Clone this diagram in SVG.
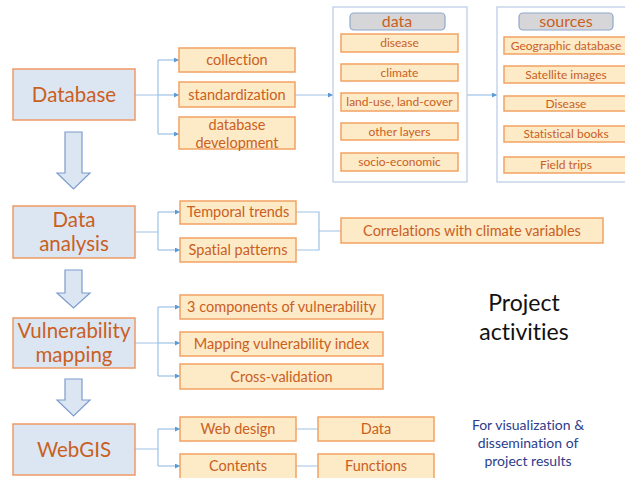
<svg xmlns="http://www.w3.org/2000/svg" width="625" height="478" viewBox="0 0 625 478">
<defs>
<style>
.ob{fill:#fdeac6;stroke:#f2a263;stroke-width:1.5}
.bb{fill:#dce6f3;stroke:#ee9a66;stroke-width:1.5}
.ct{fill:#fff;stroke:#b7cbe6;stroke-width:1.2}
.hd{fill:#d6d6d9;stroke:#8fa7cc;stroke-width:1.2}
.da{fill:#dce6f3;stroke:#7c9ccb;stroke-width:1.2}
.ln{fill:none;stroke:#9dc1e6;stroke-width:1.2}
text{font-family:Lato,"Open Sans","Liberation Sans",sans-serif;text-anchor:middle;fill:#c9601f;font-variant-ligatures:none}
.t14{font-size:14.5px}
.t12{font-size:12px}
.t16{font-size:16px}
.big{font-size:20.5px}
.pa{font-size:23px;fill:#111}
.bl{font-size:14px;fill:#2c3d8c}
</style>
<marker id="ah" viewBox="0 0 6 6" refX="6" refY="3" markerWidth="5" markerHeight="5" orient="auto" markerUnits="userSpaceOnUse">
<path d="M0,0L6,3L0,6z" fill="#5b9bd5"/>
</marker>
</defs>
<g id="connectors">
<path class="ln" d="M135,95H158M158,60V134"/>
<path class="ln" d="M158,60H179" marker-end="url(#ah)"/>
<path class="ln" d="M158,95H179" marker-end="url(#ah)"/>
<path class="ln" d="M158,134H179" marker-end="url(#ah)"/>
<path class="ln" d="M295,95H333" marker-end="url(#ah)"/>
<path class="ln" d="M467,95H497" marker-end="url(#ah)"/>
<path class="ln" d="M135,232H158M158,212V250"/>
<path class="ln" d="M158,212H180" marker-end="url(#ah)"/>
<path class="ln" d="M158,250H180" marker-end="url(#ah)"/>
<path class="ln" d="M296,212H319V250H296M319,231H341"/>
<path class="ln" d="M135,343H158M158,307V376"/>
<path class="ln" d="M158,307H180" marker-end="url(#ah)"/>
<path class="ln" d="M158,343H180" marker-end="url(#ah)"/>
<path class="ln" d="M158,376H180" marker-end="url(#ah)"/>
<path class="ln" d="M135,449H158M158,429V466"/>
<path class="ln" d="M158,429H180" marker-end="url(#ah)"/>
<path class="ln" d="M158,466H180" marker-end="url(#ah)"/>
<path class="ln" d="M296,429H318M296,466H318"/>
</g>
<g id="down-arrows">
<path class="da" d="M65,132H82V173H90L73.5,189L57,173H65Z"/>
<path class="da" d="M65,270H82V293H90L73.5,308L57,293H65Z"/>
<path class="da" d="M65,379H82V400H90L73.5,416L57,400H65Z"/>
</g>
<g id="database"><rect class="bb" x="13" y="69" width="122" height="51"/><text class="big" x="74" y="102">Database</text></g>
<g id="collection"><rect class="ob" x="179" y="48" width="116" height="24"/><text class="t14" x="237" y="65">collection</text></g>
<g id="standardization"><rect class="ob" x="179" y="82" width="116" height="25"/><text class="t14" x="237" y="100">standardization</text></g>
<g id="database-development"><rect class="ob" x="179" y="117" width="116" height="32"/><text class="t14" x="237" y="130">database</text><text class="t14" x="237" y="148">development</text></g>
<g id="data-group">
<rect class="ct" x="333" y="7" width="134" height="175"/>
<rect class="hd" x="350" y="13" width="95" height="17" rx="4"/><text class="t16" x="397" y="27">data</text>
<rect class="ob" x="341" y="34" width="117" height="18"/><text class="t12" x="399.5" y="47">disease</text>
<rect class="ob" x="341" y="64" width="117" height="17"/><text class="t12" x="399.5" y="77">climate</text>
<rect class="ob" x="341" y="93" width="117" height="18"/><text class="t12" x="399.5" y="106">land-use, land-cover</text>
<rect class="ob" x="341" y="123" width="117" height="17"/><text class="t12" x="399.5" y="136">other layers</text>
<rect class="ob" x="341" y="153" width="117" height="18"/><text class="t12" x="399.5" y="166">socio-economic</text>
</g>
<g id="sources-group">
<rect class="ct" x="497" y="7" width="140" height="175"/>
<rect class="hd" x="519" y="13" width="94" height="17" rx="4"/><text class="t16" x="566" y="27">sources</text>
<rect class="ob" x="504" y="37" width="130" height="17"/><text class="t12" x="566" y="50">Geographic database</text>
<rect class="ob" x="504" y="66" width="130" height="17"/><text class="t12" x="566" y="79">Satellite images</text>
<rect class="ob" x="504" y="96" width="130" height="15"/><text class="t12" x="566" y="108">Disease</text>
<rect class="ob" x="504" y="126" width="130" height="16"/><text class="t12" x="566" y="138">Statistical books</text>
<rect class="ob" x="504" y="157" width="130" height="16"/><text class="t12" x="566" y="169">Field trips</text>
</g>
<g id="data-analysis"><rect class="bb" x="13" y="206" width="122" height="52"/><text class="big" x="74" y="227">Data</text><text class="big" x="74" y="251">analysis</text></g>
<g id="temporal-trends"><rect class="ob" x="180" y="201" width="116" height="23"/><text class="t14" x="238" y="217">Temporal trends</text></g>
<g id="spatial-patterns"><rect class="ob" x="180" y="238" width="116" height="24"/><text class="t14" x="238" y="255">Spatial patterns</text></g>
<g id="correlations"><rect class="ob" x="341" y="218" width="262" height="25"/><text class="t14" x="472" y="236">Correlations with climate variables</text></g>
<g id="vulnerability-mapping"><rect class="bb" x="13" y="318" width="122" height="50"/><text class="big" x="74" y="338">Vulnerability</text><text class="big" x="74" y="362">mapping</text></g>
<g id="three-components"><rect class="ob" x="180" y="295" width="203" height="24"/><text class="t14" x="281.5" y="312">3 components of vulnerability</text></g>
<g id="mapping-index"><rect class="ob" x="180" y="332" width="203" height="24"/><text class="t14" x="281.5" y="349">Mapping vulnerability index</text></g>
<g id="cross-validation"><rect class="ob" x="180" y="364" width="203" height="25"/><text class="t14" x="281.5" y="382">Cross-validation</text></g>
<g id="webgis"><rect class="bb" x="13" y="424" width="122" height="51"/><text class="big" x="74" y="457">WebGIS</text></g>
<g id="web-design"><rect class="ob" x="180" y="417" width="116" height="24"/><text class="t14" x="238" y="434">Web design</text></g>
<g id="contents"><rect class="ob" x="180" y="454" width="116" height="26"/><text class="t14" x="238" y="471">Contents</text></g>
<g id="data-web"><rect class="ob" x="318" y="417" width="116" height="24"/><text class="t14" x="376" y="434">Data</text></g>
<g id="functions"><rect class="ob" x="318" y="454" width="116" height="26"/><text class="t14" x="376" y="471">Functions</text></g>
<g id="project-activities"><text class="pa" x="524" y="311">Project</text><text class="pa" x="524" y="340">activities</text></g>
<g id="note"><text class="bl" x="528" y="430">For visualization &amp;</text><text class="bl" x="528" y="448">dissemination of</text><text class="bl" x="528" y="466">project results</text></g>
</svg>
